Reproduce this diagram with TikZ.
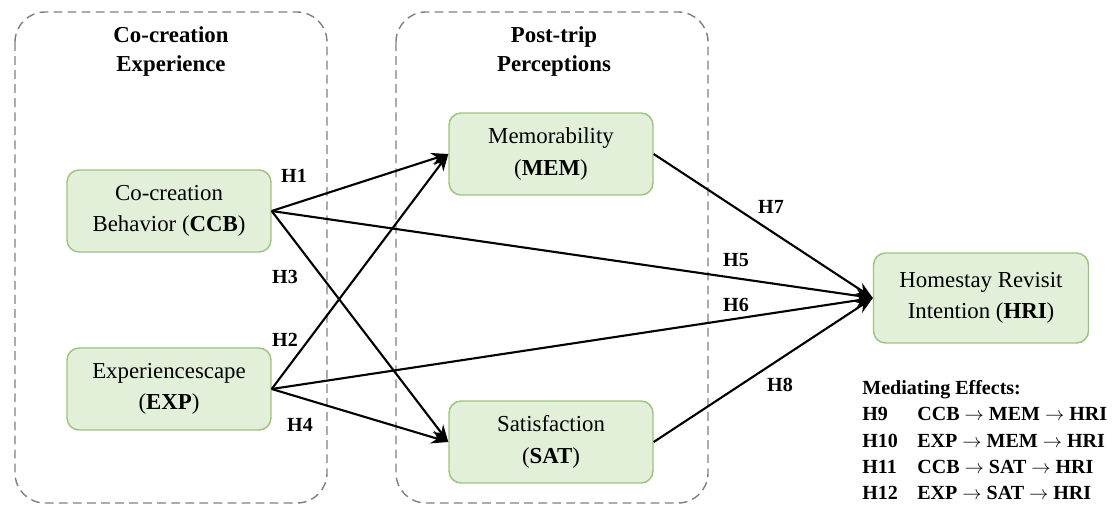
\documentclass[tikz,border=0pt]{standalone}
\usepackage{fontspec}
\setmainfont{LiberationSerif}[Extension=.ttf,UprightFont=*-Regular,BoldFont=*-Bold]
\usetikzlibrary{arrows.meta}
\definecolor{boxfill}{HTML}{E2EFD9}
\definecolor{boxline}{HTML}{9DC27D}
\definecolor{grpline}{HTML}{7F7F7F}

\begin{document}
\begin{tikzpicture}
[x=0.02cm,y=-0.02cm,%
  construct/.style={rectangle,rounded corners=0.24cm,draw=boxline,fill=boxfill,line width=0.8pt,%
    minimum width=4.08cm,minimum height=1.64cm,align=center,inner sep=2pt,%
    font=\fontsize{13}{18}\selectfont},%
  group/.style={draw=grpline,dashed,dash pattern=on 5pt off 3pt,line width=0.8pt,rounded corners=0.6cm},%
  grouptitle/.style={align=center,font=\fontsize{13}{16.5}\selectfont\bfseries},%
  path/.style={-{Stealth[length=0.34cm,width=0.26cm]},line width=1.2pt,black},%
  hyp/.style={font=\fontsize{11.4}{13}\selectfont\bfseries,inner sep=0pt},%
  medtext/.style={anchor=base west,inner sep=0pt,font=\fontsize{11.4}{13}\selectfont\bfseries}]
\useasboundingbox (0,0) rectangle (1118,517);
% dashed groups
\draw[group] (15,12) rectangle (327,503);
\draw[group] (396,12) rectangle (708,503);
\node[grouptitle] (ttlA) at (171,52) {Co-creation\\Experience};
\node[grouptitle] (ttlB) at (554,52) {Post-trip\\Perceptions};
% constructs
\node[construct] (CCB) at (169,211) {Co-creation\\Behavior (\textbf{CCB})};
\node[construct] (EXP) at (169,389) {Experiencescape\\(\textbf{EXP})};
\node[construct] (MEM) at (551,154) {Memorability\\(\textbf{MEM})};
\node[construct] (SAT) at (551,442) {Satisfaction\\(\textbf{SAT})};
\node[construct,minimum width=4.3cm,minimum height=1.8cm] (HRI) at (981,298)
  {Homestay Revisit\\Intention (\textbf{HRI})};
% paths
\draw[path] (CCB.east) -- (MEM.west);
\draw[path] (CCB.east) -- (SAT.west);
\draw[path] (CCB.east) -- (HRI.west);
\draw[path] (EXP.east) -- (MEM.west);
\draw[path] (EXP.east) -- (SAT.west);
\draw[path] (EXP.east) -- (HRI.west);
\draw[path] (MEM.east) -- (HRI.west);
\draw[path] (SAT.east) -- (HRI.west);
% hypothesis labels
\node[hyp] (h1) at (294,176) {H1};
\node[hyp] (h2) at (285,340) {H2};
\node[hyp] (h3) at (285,277) {H3};
\node[hyp] (h4) at (300,425) {H4};
\node[hyp] (h5) at (736,260) {H5};
\node[hyp] (h6) at (736,305) {H6};
\node[hyp] (h7) at (771,207) {H7};
\node[hyp] (h8) at (780,385) {H8};
% mediating effects
\node[medtext] (medA) at (862,394) {Mediating Effects:};
\node[medtext] (m9) at (862,420) {H9};
\node[medtext] (m9t) at (917,420) {CCB $\rightarrow$ MEM $\rightarrow$ HRI};
\node[medtext] (m10) at (862,447) {H10};
\node[medtext] (m10t) at (917,447) {EXP $\rightarrow$ MEM $\rightarrow$ HRI};
\node[medtext] (m11) at (862,473) {H11};
\node[medtext] (m11t) at (917,473) {CCB $\rightarrow$ SAT $\rightarrow$ HRI};
\node[medtext] (m12) at (862,499) {H12};
\node[medtext] (m12t) at (917,499) {EXP $\rightarrow$ SAT $\rightarrow$ HRI};
\end{tikzpicture}
\end{document}
